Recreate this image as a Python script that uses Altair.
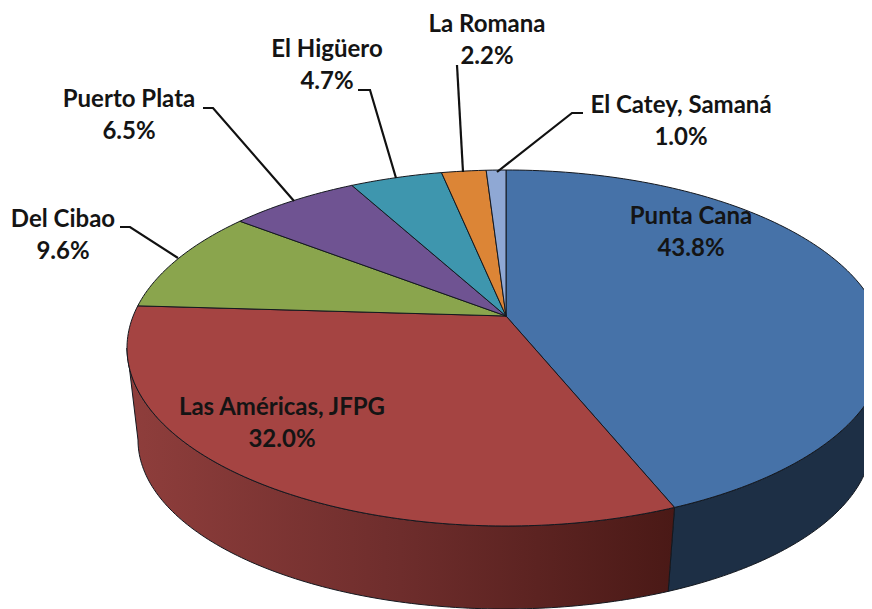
import math
import altair as alt
import pandas as pd

# Slices, clockwise from 12 o'clock
names = ["Punta Cana", "Las Américas, JFPG", "Del Cibao", "Puerto Plata", "El Higüero", "La Romana", "El Catey, Samaná"]
shares = [43.8, 32.0, 9.6, 6.5, 4.7, 2.2, 1.0]
colors = ["#4672A8", "#A54442", "#8AA54D", "#6F5392", "#3E96AE", "#DC8536", "#8FA8D4"]
# End of each slice on the tilted rim, in degrees (perspective shifts them from share*3.6)
rim_end = [153.6, 283.7, 315.4, 336.0, 350.2, 357.0, 360.0]

# Label positions
label_x = [691, 282, 63, 129, 327, 487, 681]
label_y = [217, 408, 220, 100, 50, 25, 106]
leaders = [
    None,
    None,
    [(120, 227), (130, 227), (178, 258)],
    [(203, 108), (213, 108), (294, 201)],
    [(358, 90), (370, 90), (396, 178)],
    [(457, 65), (463, 172)],
    [(583, 113), (572, 113), (497, 172)],
]

# Pie geometry
apex = (506, 316)
top_ellipse = (506, 348, 379, 178)
bottom_ellipse = (505, 440, 367, 169)

X = alt.X("x:Q", scale=alt.Scale(domain=[8, 864]), axis=None)
Y = alt.Y("y:Q", scale=alt.Scale(domain=[609, 8]), axis=None)


def rim(ell, deg):
    cx, cy, rx, ry = ell
    t = math.radians(deg)
    return (cx + rx * math.sin(t), cy - ry * math.cos(t))


def arc(ell, a, b, step=1.0):
    n = max(2, int(abs(b - a) / step) + 1)
    return [rim(ell, a + (b - a) * i / (n - 1)) for i in range(n)]


def polygon(points, fill):
    df = pd.DataFrame({"x": [p[0] for p in points], "y": [p[1] for p in points], "i": range(len(points))})
    return (
        alt.Chart(df)
        .mark_line(fill=fill, stroke="#14181f", strokeWidth=1, interpolate="linear-closed", clip=True)
        .encode(x=X, y=Y, order=alt.Order("i:Q"))
    )


layers = []

# Walls
blue_wall = arc(top_ellipse, 90, 153.6) + arc(bottom_ellipse, 153.6, 90)
layers.append(polygon(blue_wall, "#1D2F45"))
red_fill = alt.Gradient(
    gradient="linear", x1=0, x2=1, y1=0, y2=0,
    stops=[
        alt.GradientStop(color="#8F3E3C", offset=0),
        alt.GradientStop(color="#6E2D2C", offset=0.5),
        alt.GradientStop(color="#4A1916", offset=1),
    ],
)
red_wall = arc(top_ellipse, 153.6, 270) + arc(bottom_ellipse, 270, 153.6)
layers.append(polygon(red_wall, red_fill))

# Top faces
start = 0.0
for end, col in zip(rim_end, colors):
    layers.append(polygon([apex] + arc(top_ellipse, start, end), col))
    start = end

# Leaders
rows = []
for k, pts in enumerate(leaders):
    if pts:
        for j, (px, py) in enumerate(pts):
            rows.append({"x": px, "y": py, "k": k, "j": j})
layers.append(
    alt.Chart(pd.DataFrame(rows))
    .mark_line(color="#111111", strokeWidth=2.2)
    .encode(x=X, y=Y, detail="k:N", order=alt.Order("j:Q"))
)

# Labels
texts = []
for n, s, lx, ly in zip(names, shares, label_x, label_y):
    texts.append({"x": lx, "y": ly, "t": n})
    texts.append({"x": lx, "y": ly + 31.5, "t": f"{s:.1f}%"})
layers.append(
    alt.Chart(pd.DataFrame(texts))
    .mark_text(font="Lato", fontWeight="bold", fontSize=24, color="#141414", align="center", baseline="middle")
    .encode(x=X, y=Y, text="t:N")
)

chart = (
    alt.layer(*layers)
    .properties(width=856, height=601, padding=0, autosize=alt.AutoSizeParams(type="none"), background="white")
    .configure_view(stroke=None)
)
chart.save("out.html", embed_options={"renderer": "svg", "actions": False})
